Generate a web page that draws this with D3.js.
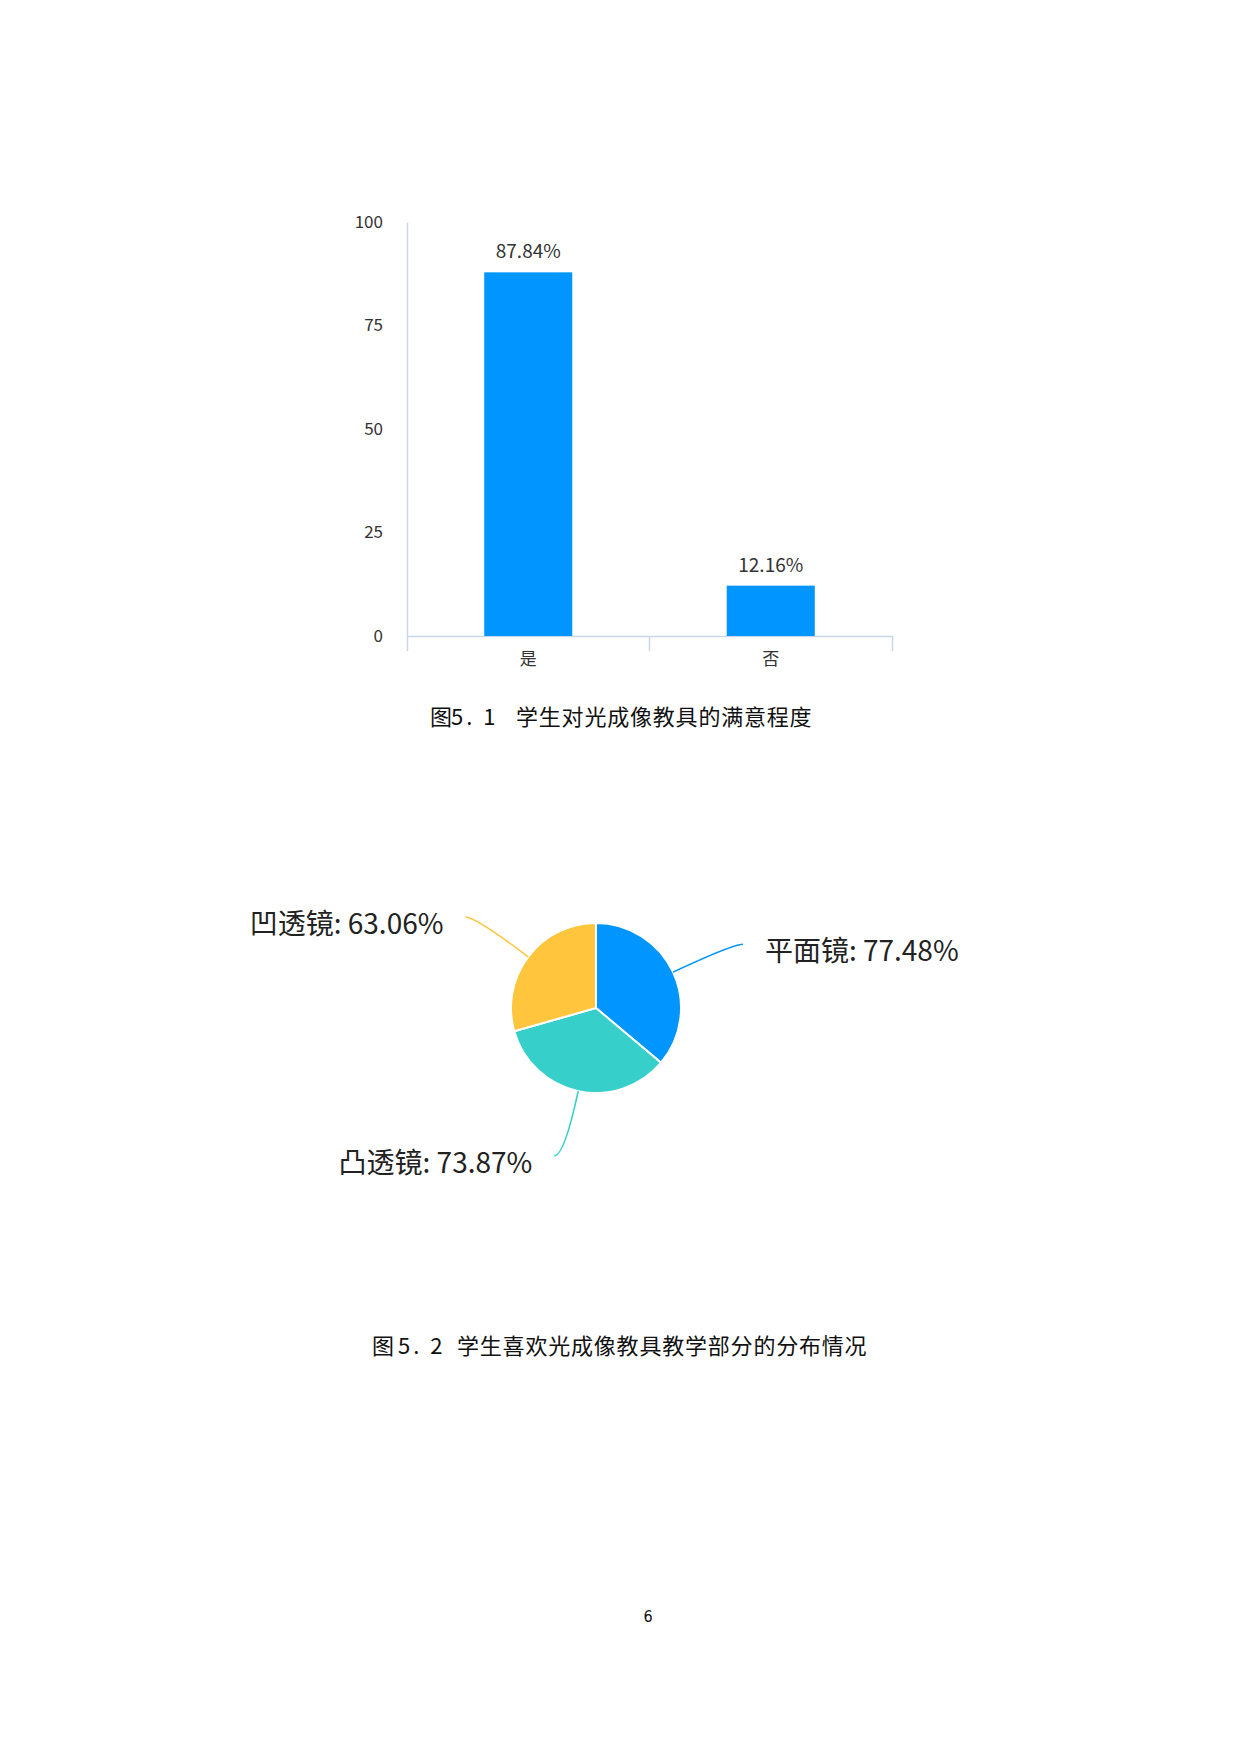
<!DOCTYPE html>
<html>
<head>
<meta charset="utf-8">
<script src="https://cdn.jsdelivr.net/npm/d3@7"></script>
<style>
    html, body { margin: 0; padding: 0; background: #fff; }
    svg { display: block; font-family: "Noto Sans CJK SC", "Noto Sans", sans-serif; }
</style>
</head>
<body>
<svg id="page" width="1240" height="1754"></svg>
<script>
// bar chart data
const barCategories = ['是', '否'];
const barValues = [87.84, 12.16];
const yTicks = [0, 25, 50, 75, 100];

// pie chart data
const pieNames = ['平面镜', '凸透镜', '凹透镜'];
const pieValues = [77.48, 73.87, 63.06];
const pieColors = ['#0095ff', '#36cfc9', '#ffc53d'];

// captions
const caption1 = ['图', '5. 1', '学生对光成像教具的满意程度'];
const caption2 = ['图', '5. 2', '学生喜欢光成像教具教学部分的分布情况'];
const pageNumber = '6';

const svg = d3.select('#page');

function drawBar() {
    const x = d3.scaleBand().domain(barCategories).range([407, 892]).padding(0);
    const y = d3.scaleLinear().domain([0, 100]).range([636, 222]);
    const barW = x.bandwidth() * 0.363;
    const g = svg.append('g').attr('class', 'bar_chart');

    const yAxis = g.append('g')
        .attr('transform', 'translate(407,0)')
        .call(d3.axisLeft(y).tickValues(yTicks).tickSize(0).tickSizeOuter(0).tickPadding(24))
        .attr('font-family', null)
        .attr('font-size', 17);
    yAxis.select('.domain').attr('stroke', '#ccd6eb').attr('stroke-width', 1.5);
    yAxis.selectAll('text').attr('fill', '#333');

    const xAxis = g.append('g')
        .attr('transform', `translate(0,${y(0)})`)
        .call(d3.axisBottom(x).tickSize(0).tickSizeOuter(15).tickPadding(17))
        .attr('font-family', null)
        .attr('font-size', 17);
    xAxis.select('.domain').attr('stroke', '#ccd6eb').attr('stroke-width', 1.5);
    xAxis.selectAll('text').attr('fill', '#333');

    // separators between categories
    g.selectAll('line.sep')
        .data(barCategories.slice(1))
        .enter()
        .append('line')
        .attr('class', 'sep')
        .attr('x1', (d) => x(d))
        .attr('x2', (d) => x(d))
        .attr('y1', y(0))
        .attr('y2', y(0) + 15)
        .attr('stroke', '#ccd6eb')
        .attr('stroke-width', 1.5);

    g.selectAll('rect')
        .data(barValues)
        .enter()
        .append('rect')
        .attr('x', (d, i) => x(barCategories[i]) + (x.bandwidth() - barW) / 2)
        .attr('y', (d) => y(d))
        .attr('width', barW)
        .attr('height', (d) => y(0) - y(d))
        .attr('fill', '#0095ff');

    g.selectAll('text.val')
        .data(barValues)
        .enter()
        .append('text')
        .attr('class', 'val')
        .attr('x', (d, i) => x(barCategories[i]) + x.bandwidth() / 2)
        .attr('y', (d) => y(d) - 14)
        .attr('text-anchor', 'middle')
        .attr('font-size', 19)
        .attr('fill', '#333')
        .text((d) => d.toFixed(2) + '%');
}

function drawPie() {
    const r = 85;
    const generator = d3.pie().sort(null);
    const chart = generator(pieValues);
    const arc = d3.arc().innerRadius(0).outerRadius(r);
    const g = svg.append('g')
        .attr('class', 'pie_chart')
        .attr('transform', 'translate(596, 1008)');

    g.selectAll('path.slice')
        .data(chart)
        .enter()
        .append('path')
        .attr('class', 'slice')
        .attr('d', arc)
        .style('fill', (d, i) => pieColors[i])
        .attr('stroke', '#fff')
        .attr('stroke-width', 2);

    // label lines: radial leg then short horizontal leg, smoothed
    const len1 = 66, len2 = 10;
    const geo = chart.map((d) => {
        const mid = (d.startAngle + d.endAngle) / 2;
        const dx = Math.sin(mid), dy = -Math.cos(mid);
        const side = dx >= 0 ? 1 : -1;
        const p0 = [dx * r, dy * r];
        const p1 = [dx * (r + len1), dy * (r + len1)];
        const p2 = [p1[0] + side * len2, p1[1]];
        return { p0, p1, p2, side };
    });

    g.selectAll('path.leader')
        .data(geo)
        .enter()
        .append('path')
        .attr('class', 'leader')
        .attr('d', (d) => `M${d.p0}Q${d.p1} ${d.p2}`)
        .attr('fill', 'none')
        .attr('stroke', (d, i) => pieColors[i])
        .attr('stroke-width', 1.6);

    g.selectAll('text')
        .data(geo)
        .enter()
        .append('text')
        .attr('x', (d) => d.p2[0] + d.side * 22)
        .attr('y', (d) => d.p2[1] + 17)
        .attr('text-anchor', (d) => (d.side > 0 ? 'start' : 'end'))
        .attr('font-size', 28)
        .attr('fill', '#222')
        .text((d, i) => `${pieNames[i]}: ${pieValues[i].toFixed(2)}%`);
}

function drawCaption(parts, x0, xNum, xTitle, baseline) {
    const t = svg.append('text')
        .attr('y', baseline)
        .attr('font-size', 22)
        .attr('fill', '#111');
    t.append('tspan').attr('x', x0).text(parts[0]);
    t.append('tspan').attr('x', xNum).attr('letter-spacing', 3).text(parts[1]);
    t.append('tspan').attr('x', xTitle).attr('letter-spacing', 0.8).text(parts[2]);
}

drawBar();
drawPie();
drawCaption(caption1, 430, 451, 516, 725);
drawCaption(caption2, 372, 398, 457, 1354);

svg.append('text')
    .attr('x', 648)
    .attr('y', 1622)
    .attr('text-anchor', 'middle')
    .attr('font-size', 16)
    .attr('font-family', '"Liberation Sans Narrow", "DejaVu Sans Condensed", sans-serif')
    .attr('fill', '#111')
    .text(pageNumber);
</script>
</body>
</html>
